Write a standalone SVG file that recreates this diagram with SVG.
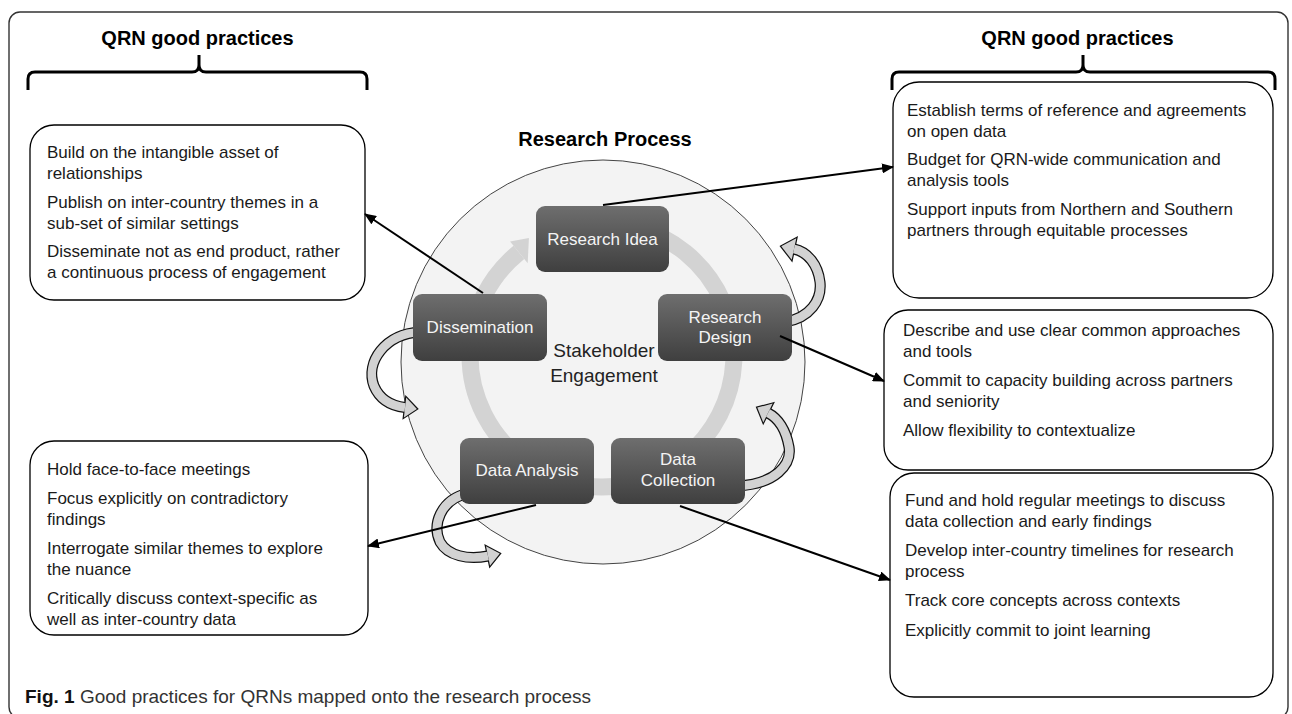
<svg xmlns="http://www.w3.org/2000/svg" width="1292" height="714" viewBox="0 0 1292 714">
<defs>
<linearGradient id="boxg" x1="0" y1="0" x2="0" y2="1">
<stop offset="0" stop-color="#6e6e6e"/>
<stop offset="1" stop-color="#3f3f3f"/>
</linearGradient>
<linearGradient id="cgrad" x1="0" y1="0" x2="1" y2="1">
<stop offset="0" stop-color="#e2e2e2"/>
<stop offset="1" stop-color="#c4c4c4"/>
</linearGradient>
<marker id="ah" markerWidth="12" markerHeight="10" refX="11" refY="5" orient="auto" markerUnits="userSpaceOnUse">
<path d="M0,0 L12,5 L0,10 z" fill="#000"/>
</marker>
<style>
.frame{fill:#fff;stroke:#333;stroke-width:1.4}
.hd{font-family:"Liberation Sans",Arial,sans-serif;font-weight:bold;font-size:20px;fill:#000;text-anchor:middle}
.brace{fill:none;stroke:#000;stroke-width:3}
.tb{fill:#fff;stroke:#000;stroke-width:1.3}
.bt{font-family:"Liberation Sans",Arial,sans-serif;font-size:17px;fill:#1a1a1a}
.node rect{fill:url(#boxg)}
.nt{font-family:"Liberation Sans",Arial,sans-serif;font-size:17px;fill:#f4f4f4;text-anchor:middle}
.conn line{stroke:#000;stroke-width:2;marker-end:url(#ah)}
.cb{fill:none;stroke:#111;stroke-width:11}
.cbh{fill:#111;stroke:#111;stroke-width:2.4;stroke-linejoin:miter}
.cg{fill:none;stroke:#d2d2d2;stroke-width:8.6}
.cgh{fill:#d2d2d2;stroke:none}
</style>
</defs>
<rect class="frame" x="9" y="12" width="1279" height="706" rx="11"/>

<g id="left-heading">
<text class="hd" x="197.5" y="45">QRN good practices</text>
<path class="brace" d="M28,90 L28,79 Q28,72 35,72 L192,72 Q199,72 199,65 L199,55 M199,65 Q199,72 206,72 L360,72 Q367,72 367,79 L367,90"/>
</g>
<g id="right-heading">
<text class="hd" x="1077.5" y="45">QRN good practices</text>
<path class="brace" d="M892,90 L892,79 Q892,72 899,72 L1076,72 Q1083,72 1083,65 L1083,55 M1083,65 Q1083,72 1090,72 L1268,72 Q1275,72 1275,79 L1275,90"/>
</g>

<text class="hd" x="605" y="146">Research Process</text>

<g id="process-circle">
<circle cx="603" cy="362" r="202" fill="#f3f3f3" stroke="#444" stroke-width="1"/>
<path d="M636.2,227.5 A132,132 0 1 1 518.9,252.4" fill="none" stroke="#d3d3d3" stroke-width="17"/>
<polygon points="510.1,241.5 528.9,238 527.7,263.3" fill="#d3d3d3"/>
<text x="604" y="357" font-family="Liberation Sans, Arial, sans-serif" font-size="19" fill="#222" text-anchor="middle">Stakeholder</text>
<text x="604" y="382" font-family="Liberation Sans, Arial, sans-serif" font-size="19" fill="#222" text-anchor="middle">Engagement</text>
</g>

<g id="cycle-arrows">
<path class="cb" d="M785,322 C810,318 822,300 820,282 C818,265 808,252 794,249"/>
<polygon class="cbh" points="796.3,238.2 781.3,246.3 791.7,259.8"/>
<path class="cb" d="M738,486 C775,484 792,465 789,447 C786,430 778,418 768,413"/>
<polygon class="cbh" points="772.7,403.6 757.3,407.6 763.3,422.4"/>
<path class="cb" d="M420,332 C385,334 365,362 374,386 C380,400 392,406 405,407.5"/>
<polygon class="cbh" points="406.2,397.6 416.9,408.9 403.9,417.4"/>
<path class="cb" d="M468,493 C440,500 432,525 440,542 C448,556 468,560 488,556"/>
<polygon class="cbh" points="486,546.2 499.8,553.6 490,565.8"/>
<path class="cg" d="M785,322 C810,318 822,300 820,282 C818,265 808,252 794,249"/>
<polygon class="cgh" points="796.3,238.2 781.3,246.3 791.7,259.8"/>
<path class="cg" d="M738,486 C775,484 792,465 789,447 C786,430 778,418 768,413"/>
<polygon class="cgh" points="772.7,403.6 757.3,407.6 763.3,422.4"/>
<path class="cg" d="M420,332 C385,334 365,362 374,386 C380,400 392,406 405,407.5"/>
<polygon class="cgh" points="406.2,397.6 416.9,408.9 403.9,417.4"/>
<path class="cg" d="M468,493 C440,500 432,525 440,542 C448,556 468,560 488,556"/>
<polygon class="cgh" points="486,546.2 499.8,553.6 490,565.8"/>
</g>

<g id="research-idea" class="node">
<rect x="536" y="206" width="133" height="66" rx="9"/>
<text class="nt" x="602.5" y="245">Research Idea</text>
</g>
<g id="dissemination" class="node">
<rect x="413" y="294" width="134" height="67" rx="9"/>
<text class="nt" x="480" y="333">Dissemination</text>
</g>
<g id="research-design" class="node">
<rect x="658" y="294" width="134" height="67" rx="9"/>
<text class="nt" x="725" y="323">Research</text>
<text class="nt" x="725" y="343">Design</text>
</g>
<g id="data-analysis" class="node">
<rect x="460" y="438" width="134" height="66" rx="9"/>
<text class="nt" x="527" y="476">Data Analysis</text>
</g>
<g id="data-collection" class="node">
<rect x="611" y="438" width="134" height="66" rx="9"/>
<text class="nt" x="678" y="465">Data</text>
<text class="nt" x="678" y="486">Collection</text>
</g>

<g id="box-dissemination">
<rect class="tb" x="30" y="125" width="335" height="175" rx="24"/>
<text class="bt" x="47" y="158">Build on the intangible asset of</text>
<text class="bt" x="47" y="179">relationships</text>
<text class="bt" x="47" y="208">Publish on inter-country themes in a</text>
<text class="bt" x="47" y="229">sub-set of similar settings</text>
<text class="bt" x="47" y="257">Disseminate not as end product, rather</text>
<text class="bt" x="47" y="278">a continuous process of engagement</text>
</g>
<g id="box-idea">
<rect class="tb" x="893" y="82" width="380" height="216" rx="26"/>
<text class="bt" x="907" y="116">Establish terms of reference and agreements</text>
<text class="bt" x="907" y="137">on open data</text>
<text class="bt" x="907" y="165">Budget for QRN-wide communication and</text>
<text class="bt" x="907" y="186">analysis tools</text>
<text class="bt" x="907" y="215">Support inputs from Northern and Southern</text>
<text class="bt" x="907" y="236">partners through equitable processes</text>
</g>
<g id="box-design">
<rect class="tb" x="884" y="310" width="389" height="160" rx="24"/>
<text class="bt" x="903" y="336">Describe and use clear common approaches</text>
<text class="bt" x="903" y="357">and tools</text>
<text class="bt" x="903" y="386">Commit to capacity building across partners</text>
<text class="bt" x="903" y="407">and seniority</text>
<text class="bt" x="903" y="436">Allow flexibility to contextualize</text>
</g>
<g id="box-analysis">
<rect class="tb" x="30" y="441" width="338" height="194" rx="24"/>
<text class="bt" x="47" y="475">Hold face-to-face meetings</text>
<text class="bt" x="47" y="504">Focus explicitly on contradictory</text>
<text class="bt" x="47" y="525">findings</text>
<text class="bt" x="47" y="554">Interrogate similar themes to explore</text>
<text class="bt" x="47" y="575">the nuance</text>
<text class="bt" x="47" y="604">Critically discuss context-specific as</text>
<text class="bt" x="47" y="625">well as inter-country data</text>
</g>
<g id="box-collection">
<rect class="tb" x="890" y="473" width="383" height="224" rx="24"/>
<text class="bt" x="905" y="506">Fund and hold regular meetings to discuss</text>
<text class="bt" x="905" y="527">data collection and early findings</text>
<text class="bt" x="905" y="556">Develop inter-country timelines for research</text>
<text class="bt" x="905" y="577">process</text>
<text class="bt" x="905" y="606">Track core concepts across contexts</text>
<text class="bt" x="905" y="636">Explicitly commit to joint learning</text>
</g>

<g id="connectors" class="conn">
<line x1="603" y1="205" x2="893" y2="167"/>
<line x1="483" y1="293" x2="365" y2="214"/>
<line x1="780" y1="336" x2="884" y2="381"/>
<line x1="536" y1="505" x2="368" y2="546"/>
<line x1="680" y1="506" x2="890" y2="580"/>
</g>

<text x="25" y="703" font-family="Liberation Sans, Arial, sans-serif" font-size="19" fill="#333"><tspan font-weight="bold" fill="#111">Fig. 1</tspan> Good practices for QRNs mapped onto the research process</text>
</svg>
